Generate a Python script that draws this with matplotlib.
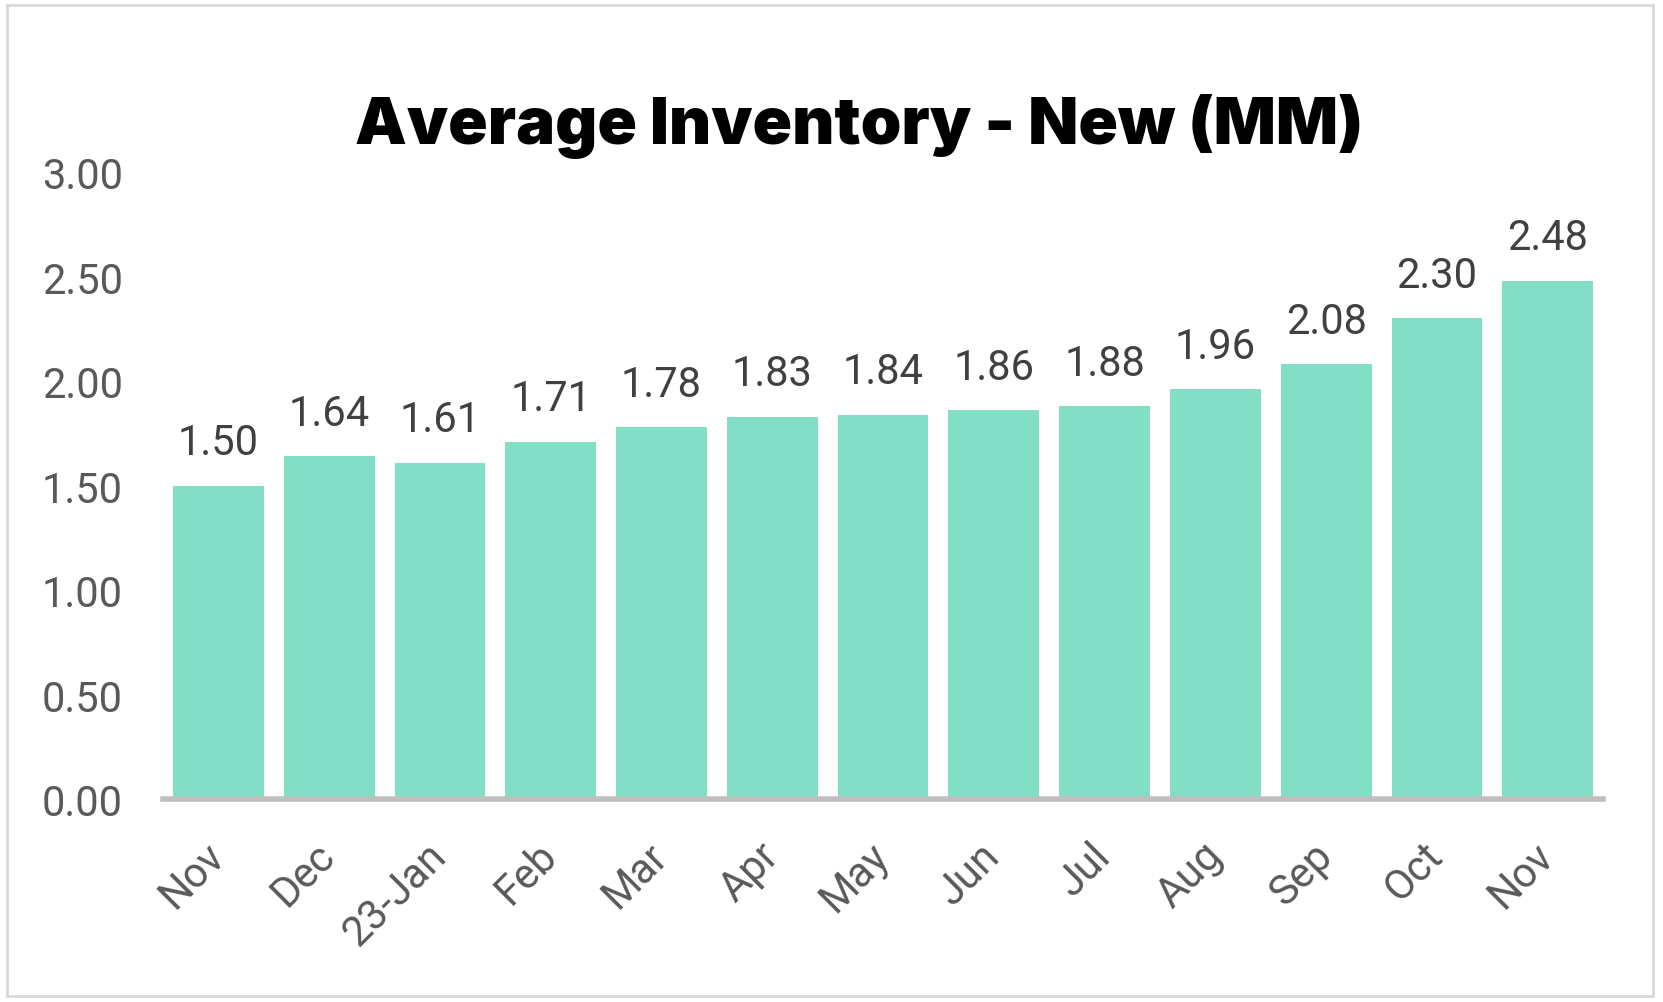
import matplotlib.pyplot as plt
from matplotlib.patches import Rectangle

# Data
months = ['Nov', 'Dec', '23-Jan', 'Feb', 'Mar', 'Apr', 'May', 'Jun', 'Jul',
          'Aug', 'Sep', 'Oct', 'Nov']
inventory = [1.50, 1.64, 1.61, 1.71, 1.78, 1.83, 1.84, 1.86, 1.88,
             1.96, 2.08, 2.30, 2.48]
y_ticks = [0.0, 0.5, 1.0, 1.5, 2.0, 2.5, 3.0]

plt.rcParams['font.family'] = ['Roboto', 'DejaVu Sans']

fig = plt.figure(figsize=(16.63, 10.03), dpi=100)
ax = fig.add_axes([0.098, 0.2024, 0.866, 0.625])

x = list(range(len(months)))
bars = ax.bar(x, inventory, width=0.82, color='#82DFC6')

# Value labels above bars
for xi, v in zip(x, inventory):
    ax.text(xi, v + 0.15, f'{v:.2f}', ha='center', va='baseline',
            fontsize=30, color='#404040')

ax.set_xlim(-0.5, len(months) - 0.5)
ax.set_ylim(0, 3)
ax.set_yticks(y_ticks)
ax.set_yticklabels([f'{t:.2f}' for t in y_ticks], fontsize=30, color='#595959')
ax.set_xticks(x)
ax.set_xticklabels(months, rotation=45, ha='right', va='center',
                   rotation_mode='anchor', fontsize=30, color='#595959')
ax.tick_params(axis='both', length=0)
ax.tick_params(axis='x', pad=36)
ax.tick_params(axis='y', pad=29)

for side in ['top', 'right', 'left']:
    ax.spines[side].set_visible(False)
ax.spines['bottom'].set_color('#BFBFBF')
ax.spines['bottom'].set_linewidth(4)

fig.text(0.5165, 0.8564, 'Average Inventory - New (MM)', ha='center', va='baseline',
         fontsize=47, fontweight='black', color='black', family='Inter')

# Outer border
fig.patches.append(Rectangle((0.004, 0.006), 0.99, 0.988, transform=fig.transFigure,
                             fill=False, edgecolor='#D9D9D9', linewidth=2))

fig.savefig('out.png', dpi=100)
